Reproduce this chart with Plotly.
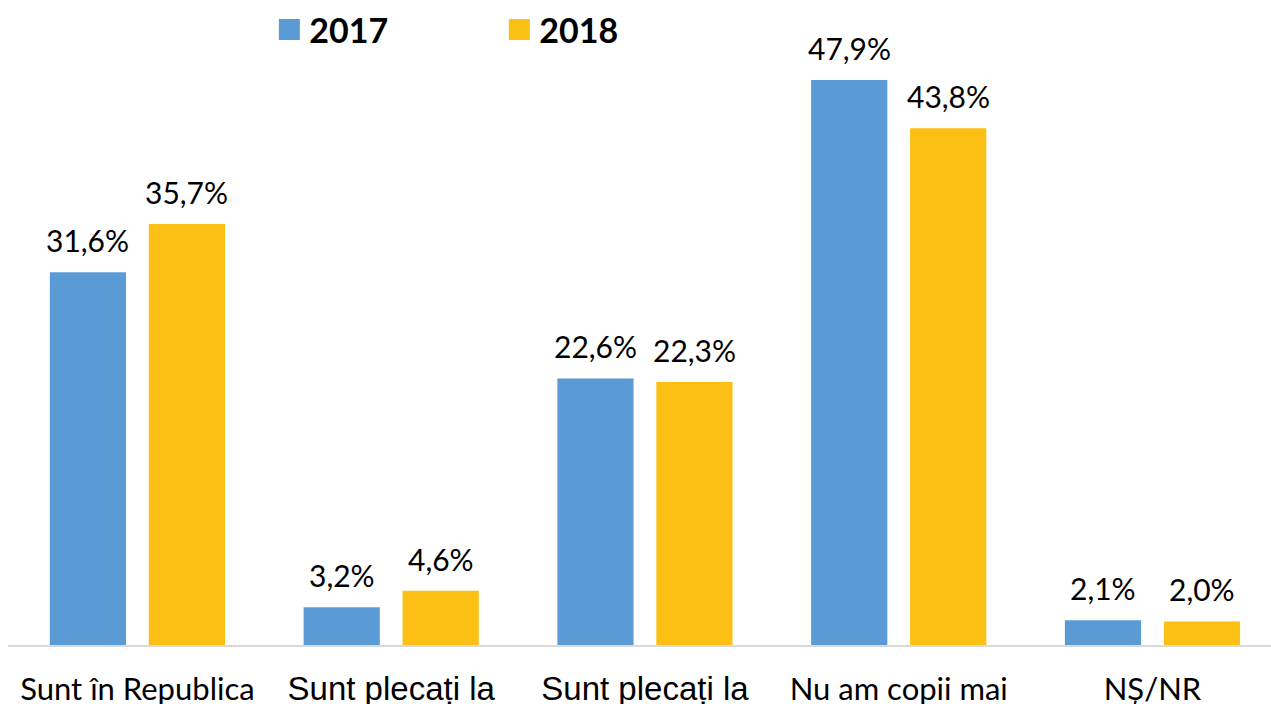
import plotly.graph_objects as go

categories = ["Sunt în Republica", "Sunt plecați la", "Sunt plecați la", "Nu am copii mai", "NȘ/NR"]
cat_ids = [0, 1, 2, 3, 4]
series_names = ["2017", "2018"]
values_2017 = [31.6, 3.2, 22.6, 47.9, 2.1]
values_2018 = [35.7, 4.6, 22.3, 43.8, 2.0]
colors = ["#5B9BD5", "#FCC014"]
# tick label fonts (the two middle labels use a different face in the original)
label_fonts = [("Lato", 31), ("Liberation Sans", 33), ("Liberation Sans", 33), ("Lato", 31), ("Lato", 31)]

W, H = 1271, 704
ML, MR, MT, MB = 8, 0, 0, 59
x_range = [-0.51, 4.467]
y_range = [0, 54.68]
bargap, bargroupgap = 0.22, 0.23

fig = go.Figure()
for name, vals, col in zip(series_names, [values_2017, values_2018], colors):
    fig.add_trace(go.Bar(
        x=cat_ids, y=vals, name=name, marker=dict(color=col, line=dict(width=0)),
        hoverinfo="x+y", showlegend=False, legendgroup=name,
    ))
# legend entries with larger square swatches
for name, col in zip(series_names, colors):
    fig.add_trace(go.Scatter(
        x=[None], y=[None], mode="markers", name=name, legendgroup=name,
        marker=dict(symbol="square", size=23, color=col, line=dict(color=col, width=6)),
        showlegend=True,
    ))

# data labels above bars
slot = (1 - bargap) / 2
for k, vals in enumerate([values_2017, values_2018]):
    off = (k - 0.5) * slot
    for i, v in zip(cat_ids, vals):
        fig.add_annotation(
            x=i + off, y=v, xref="x", yref="y",
            text=f"{v:.1f}".replace(".", ",") + "%",
            showarrow=False, yanchor="bottom", yshift=12,
            font=dict(family="Lato", size=30, color="#000000"),
        )

ticktext = [
    f"<span style='font-family:\"{f}\";font-size:{s}px'>{t}</span>"
    for t, (f, s) in zip(categories, label_fonts)
]

fig.update_layout(
    width=W, height=H,
    margin=dict(l=ML, r=MR, t=MT, b=MB, autoexpand=False),
    paper_bgcolor="white", plot_bgcolor="white",
    barmode="group", bargap=bargap, bargroupgap=bargroupgap,
    showlegend=True,
    legend=dict(
        orientation="h", x=263 / W, xanchor="left", y=1 - 30 / (H - MT - MB), yanchor="middle",
        font=dict(family="Lato", size=34, color="#000000", weight="bold"),
        bgcolor="rgba(0,0,0,0)", entrywidth=185, entrywidthmode="pixels",
        itemsizing="trace",
    ),
    xaxis=dict(
        range=x_range, tickmode="array", tickvals=cat_ids, ticktext=ticktext,
        showline=True, linecolor="#D9D9D9", linewidth=2, showgrid=False, zeroline=False,
        ticks="", tickfont=dict(family="Lato", size=31, color="#000000"),
        ticklabelstandoff=16, automargin=False,
    ),
    yaxis=dict(range=y_range, visible=False, showgrid=False, zeroline=False),
)

fig.write_html("out.html", config={"displayModeBar": False},
               post_script="document.body.style.margin='0';")
